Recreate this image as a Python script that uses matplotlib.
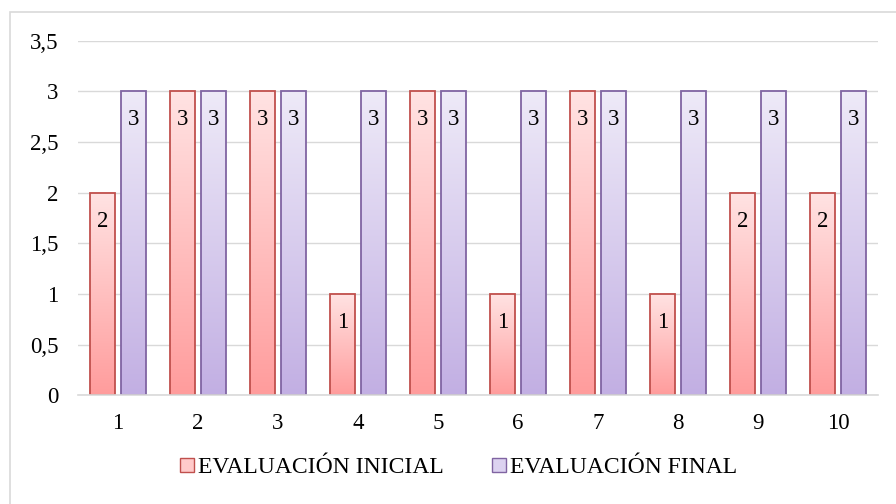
import numpy as np
import matplotlib.pyplot as plt
from matplotlib.colors import LinearSegmentedColormap
from matplotlib.patches import Rectangle
from matplotlib.lines import Line2D

plt.rcParams['font.family'] = ['Liberation Serif', 'DejaVu Serif']

categorias = ['1', '2', '3', '4', '5', '6', '7', '8', '9', '10']
inicial = [2, 3, 3, 1, 3, 1, 3, 1, 2, 2]
final = [3, 3, 3, 3, 3, 3, 3, 3, 3, 3]
series = ['EVALUACIÓN INICIAL', 'EVALUACIÓN FINAL']

# gradient (top -> bottom) and edge colours
rojo = LinearSegmentedColormap.from_list('rojo', ['#FF9C9C', '#FFE3E3'])
morado = LinearSegmentedColormap.from_list('morado', ['#C2AFE3', '#EEEAF8'])
borde_rojo = '#C0504D'
borde_morado = '#8064A2'

fig = plt.figure(figsize=(8.96, 5.04), dpi=100)
ax = fig.add_axes([0.087, 0.216, 0.893, 0.703])

x = np.arange(len(categorias))
w = 0.31
off = 0.19
grad = np.linspace(0, 1, 256).reshape(-1, 1)
fs = 16.5

def barras(pos, vals, cmap, edge):
    bars = ax.bar(pos, vals, w, facecolor='none', edgecolor=edge, linewidth=1.3, zorder=3)
    for b in bars:
        x0, h = b.get_x(), b.get_height()
        ax.imshow(grad, cmap=cmap, origin='lower', aspect='auto',
                  extent=(x0, x0 + w, 0, h), zorder=2)
        ax.annotate(str(int(h)), (x0 + w / 2, h), xytext=(0, -20.5), textcoords='offset points',
                    ha='center', va='center', fontsize=fs, color='#000000', zorder=4)
    return bars

barras(x - off, inicial, rojo, borde_rojo)
barras(x + off, final, morado, borde_morado)

ax.set_xlim(-0.5, len(categorias) - 0.5)
ax.set_ylim(0, 3.5)
ax.set_yticks(np.arange(0, 3.51, 0.5))
ax.set_yticklabels(['0', '0,5', '1', '1,5', '2', '2,5', '3', '3,5'])
ax.set_xticks(x)
ax.set_xticklabels(categorias)
ax.tick_params(length=0, labelsize=fs, pad=13)
ax.tick_params(axis='y', pad=14)
ax.grid(axis='y', color='#D9D9D9', linewidth=1, zorder=0)
for s in ['top', 'right', 'left']:
    ax.spines[s].set_visible(False)
ax.spines['bottom'].set_color('#D9D9D9')
ax.spines['bottom'].set_linewidth(1.2)
ax.spines['bottom'].set_zorder(5)

handles = [Line2D([], [], marker='s', linestyle='none', markersize=9.5,
                  markerfacecolor='#FFCACA', markeredgecolor=borde_rojo),
           Line2D([], [], marker='s', linestyle='none', markersize=9.5,
                  markerfacecolor='#DCD2F0', markeredgecolor=borde_morado)]
fig.legend(handles, series, loc='center', bbox_to_anchor=(0.511, 0.073), ncol=2,
           frameon=False, fontsize=17, handlelength=0.7, handletextpad=0.1,
           columnspacing=2.0)

# chart area border
fig.patches.append(Rectangle((10 / 896, -0.1), 1.2, 1.1 - 12 / 504, transform=fig.transFigure,
                             fill=False, edgecolor='#D9D9D9', linewidth=1.2))

fig.savefig('out.png', dpi=100)
